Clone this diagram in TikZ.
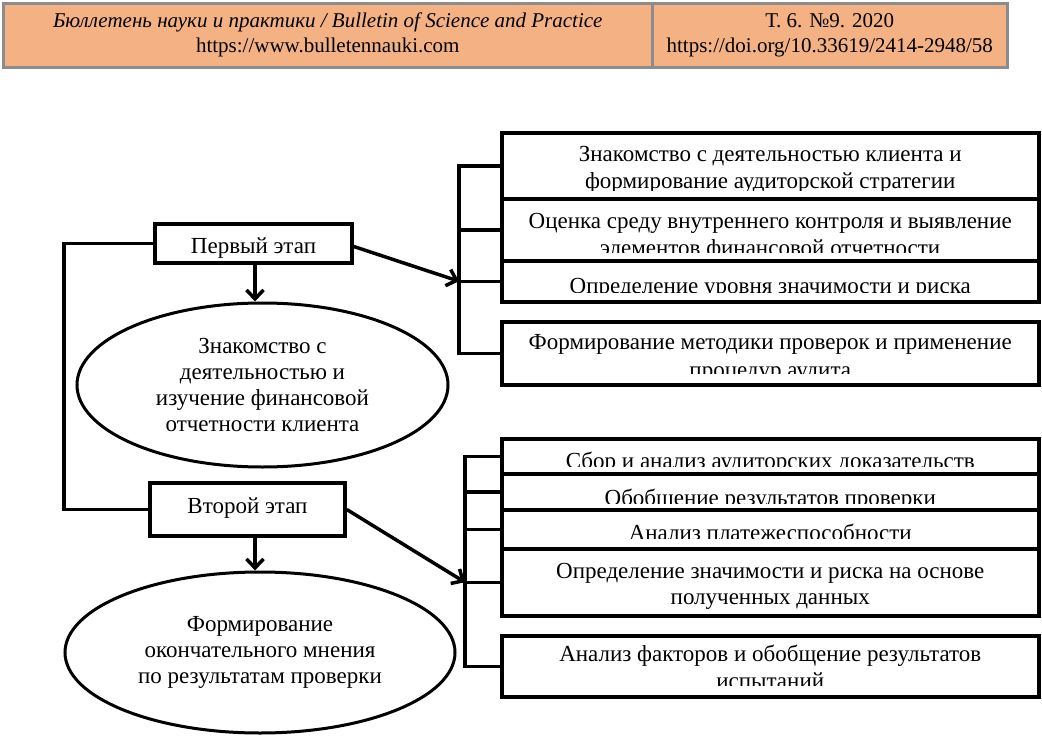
\documentclass[tikz,border=0pt]{standalone}
\usepackage{fontspec}
\setmainfont{Liberation Serif}
\usetikzlibrary{arrows.meta,shapes.geometric}
\definecolor{hdrfill}{RGB}{244,178,132}
\definecolor{hdrline}{RGB}{140,140,140}
\newcommand{\bline}[2]{\node[anchor=base, inner sep=0pt] at ([yshift=-#1pt]path picture bounding box.north) {#2};}
\newcommand{\bclip}[1]{\clip (path picture bounding box.north west) rectangle ([yshift=-#1pt]path picture bounding box.north east);}
\begin{document}
\begin{tikzpicture}[x=1pt,y=-1pt,
  every node/.style={font=\fontsize{23}{26}\selectfont},
  hdrcell/.style={draw=hdrline, line width=2.5pt, fill=hdrfill, align=center, inner sep=0pt,
    minimum height=64pt, anchor=north west, font=\fontsize{21}{25}\selectfont},
  itembox/.style={draw, line width=3.5pt, fill=white, inner sep=0pt, minimum width=537pt, anchor=north west},
  stagebox/.style={draw, line width=3.5pt, inner sep=0pt, text depth=0pt},
  oval/.style={ellipse, draw, line width=3pt, inner sep=0pt, align=center},
  conn/.style={line width=3.5pt},
  arr/.style={line width=3.5pt, -{Straight Barb[length=9pt,width=17pt]}}]
\useasboundingbox (0,0) rectangle (1042,736);

% header
\node[hdrcell, minimum width=649pt] (h1) at (2,2)
  {\textit{Бюллетень науки и практики / Bulletin of Science and Practice}\\https://www.bulletennauki.com};
\node[hdrcell, minimum width=355pt] (h2) at (651,2)
  {Т. 6. №9. 2020\\https://doi.org/10.33619/2414-2948/58};

% first group of boxes
\node[itembox, minimum height=66pt, path picture={\bclip{58}\bline{29}{Знакомство с деятельностью клиента и}\bline{56}{формирование аудиторской стратегии}}] (b1) at (500,131) {};
\node[itembox, minimum height=62pt, path picture={\bclip{54}\bline{30}{Оценка среду внутреннего контроля и выявление}\bline{57}{элементов финансовой отчетности}}] (b2) at (500,197) {};
\node[itembox, minimum height=41pt, path picture={\bclip{32}\bline{33}{Определение уровня значимости и риска}}] (b3) at (500,259) {};
\node[itembox, minimum height=63pt, path picture={\bclip{52}\bline{28}{Формирование методики проверок и применение}\bline{56}{процедур аудита}}] (b4) at (500,320) {};

% second group of boxes
\node[itembox, minimum height=35pt, path picture={\bclip{28}\bline{30}{Сбор и анализ аудиторских доказательств}}] (c1) at (500,437) {};
\node[itembox, minimum height=36pt, path picture={\bclip{30}\bline{32}{Обобщение результатов проверки}}] (c2) at (500,472) {};
\node[itembox, minimum height=39pt, path picture={\bclip{29}\bline{31}{Анализ платежеспособности}}] (c3) at (500,508) {};
\node[itembox, minimum height=67pt, path picture={\bline{30}{Определение значимости и риска на основе}\bline{56}{полученных данных}}] (c4) at (500,547) {};
\node[itembox, minimum height=61pt, path picture={\bclip{50}\bline{26}{Анализ факторов и обобщение результатов}\bline{53}{испытаний}}] (c5) at (500,634) {};

% stages
\node[stagebox, minimum width=197pt, minimum height=39pt, text height=19pt] (p1) at (253.5,243.5) {Первый этап};
\node[stagebox, minimum width=195pt, minimum height=53pt, text height=7pt] (p2) at (247.5,509.5) {Второй этап};

% ellipses
\node[oval, minimum width=371pt, minimum height=164pt] (e1) at (262.5,385)
  {Знакомство с\\деятельностью и\\изучение финансовой\\отчетности клиента};
\node[oval, minimum width=390pt, minimum height=161pt] (e2) at (260,652.5)
  {Формирование\\окончательного мнения\\по результатам проверки};

% brackets
\coordinate (k1) at (459,0);
\coordinate (k2) at (465,0);
\draw[conn] (b1.west) -- (b1.west -| k1) -- (b4.west -| k1) -- (b4.west);
\draw[conn] (b2.west) -- (b2.west -| k1);
\draw[conn] (b3.west) -- (b3.west -| k1);
\draw[conn] (c1.west) -- (c1.west -| k2) -- (c5.west -| k2) -- (c5.west);
\draw[conn] (c2.west) -- (c2.west -| k2);
\draw[conn] (c3.west) -- (c3.west -| k2);
\draw[conn] (c4.west) -- (c4.west -| k2);

% left loop
\coordinate (lx) at (64,0);
\draw[conn] (p1.west) -- (p1.west -| lx) -- (p2.west -| lx) -- (p2.west);

% arrows
\coordinate (d1) at (255,0);
\draw[arr] (p1.south -| d1) -- (e1.north -| d1);
\draw[arr] (p2.south -| d1) -- (e2.north -| d1);
\draw[arr] ([yshift=-3pt]p1.east) -- (b3.west -| k1);
\draw[arr] (p2.east) -- (c4.west -| k2);
\end{tikzpicture}
\end{document}
